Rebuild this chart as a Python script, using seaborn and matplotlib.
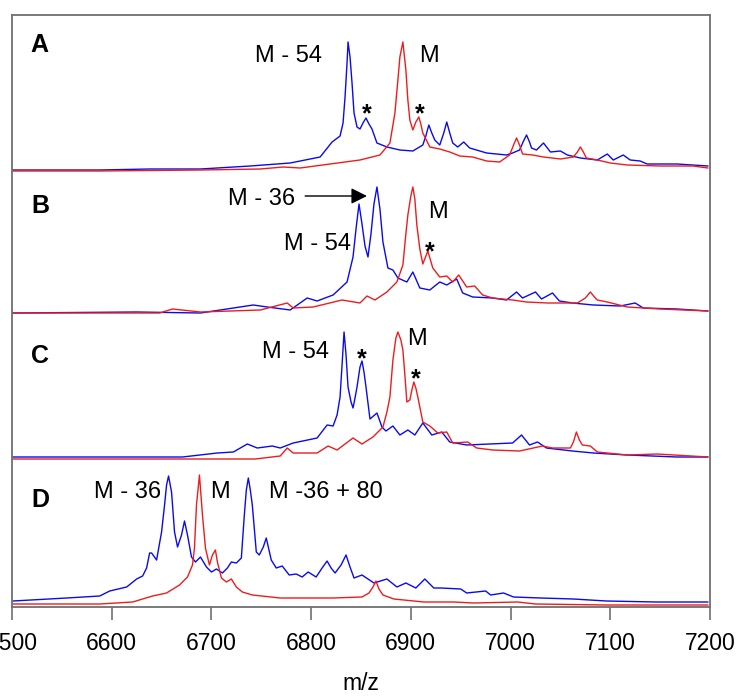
import numpy as np
import pandas as pd
import matplotlib
matplotlib.use("Agg")
import matplotlib.pyplot as plt
import seaborn as sns

# spectra: m/z and intensity (a.u., peak ~ 128)
A_blue_mz = [6500, 6588, 6638, 6689, 6739, 6779, 6809, 6821, 6829, 6832, 6834, 6836, 6837, 6839,
             6841, 6843, 6846, 6849, 6852, 6855, 6858, 6861, 6866, 6876, 6889, 6902, 6912, 6915,
             6918, 6921, 6924, 6929, 6933, 6936, 6939, 6942, 6947, 6953, 6959, 6976, 6996, 7002,
             7009, 7013, 7016, 7019, 7021, 7026, 7033, 7040, 7050, 7057, 7070, 7087, 7097, 7103,
             7113, 7120, 7130, 7137, 7167, 7198]
A_blue_int = [1, 1, 2, 2, 5, 8, 14, 29, 35, 48, 74, 108, 129, 114,
              88, 58, 44, 42, 48, 53, 47, 42, 28, 24, 21, 20, 26, 35,
              46, 38, 31, 26, 38, 49, 38, 28, 24, 29, 23, 18, 16, 18,
              21, 30, 36, 29, 23, 21, 28, 19, 20, 16, 13, 11, 17, 11,
              16, 11, 10, 7, 7, 5]
A_red_mz = [6500, 6588, 6689, 6749, 6772, 6789, 6819, 6849, 6869, 6879, 6884, 6887, 6889, 6892,
            6895, 6897, 6899, 6902, 6905, 6908, 6910, 6912, 6919, 6929, 6939, 6949, 6962, 6976,
            6989, 6999, 7003, 7006, 7009, 7012, 7022, 7033, 7050, 7063, 7067, 7070, 7073, 7076,
            7087, 7100, 7117, 7150, 7183, 7198]
A_red_int = [0, 0, 1, 2, 4, 3, 7, 11, 16, 28, 58, 91, 114, 129,
             101, 71, 51, 41, 49, 54, 47, 38, 24, 22, 19, 15, 14, 10,
             9, 16, 26, 33, 26, 17, 16, 14, 12, 14, 19, 24, 19, 13,
             11, 8, 6, 5, 5, 3]

B_blue_mz = [6500, 6625, 6689, 6742, 6756, 6779, 6796, 6806, 6822, 6836, 6842, 6845, 6848, 6851,
             6854, 6857, 6860, 6863, 6866, 6869, 6872, 6877, 6882, 6887, 6896, 6902, 6909, 6919,
             6929, 6936, 6946, 6952, 6962, 6982, 6996, 7006, 7012, 7025, 7031, 7042, 7049, 7062,
             7083, 7110, 7125, 7133, 7167, 7198]
B_blue_int = [1, 2, 1, 9, 7, 4, 16, 13, 19, 32, 57, 85, 110, 90,
              68, 57, 80, 110, 127, 105, 72, 46, 44, 36, 32, 42, 26, 24,
              32, 29, 35, 21, 17, 16, 14, 22, 16, 22, 15, 21, 13, 11,
              9, 8, 11, 6, 5, 3]
B_red_mz = [6500, 6648, 6661, 6689, 6749, 6776, 6782, 6802, 6831, 6849, 6856, 6864, 6876, 6886,
            6892, 6895, 6897, 6900, 6902, 6904, 6906, 6909, 6912, 6917, 6922, 6929, 6936, 6942,
            6948, 6956, 6964, 6972, 6982, 7002, 7016, 7037, 7067, 7075, 7080, 7085, 7087, 7097,
            7117, 7150, 7198]
B_red_int = [1, 1, 5, 2, 4, 11, 6, 7, 14, 11, 18, 14, 22, 32,
             49, 80, 99, 118, 127, 115, 89, 65, 50, 63, 46, 37, 38, 32,
             39, 27, 28, 19, 16, 14, 12, 11, 11, 16, 22, 16, 14, 12,
             7, 5, 3]

C_blue_mz = [6500, 6671, 6706, 6722, 6729, 6736, 6746, 6761, 6769, 6782, 6806, 6816, 6822, 6826,
             6829, 6831, 6833, 6835, 6837, 6840, 6842, 6844, 6846, 6849, 6851, 6853, 6855, 6859,
             6866, 6871, 6875, 6882, 6889, 6897, 6904, 6912, 6921, 6931, 6939, 6956, 6979, 7002,
             7011, 7019, 7027, 7036, 7062, 7083, 7117, 7167, 7198]
C_blue_int = [3, 3, 7, 8, 12, 16, 12, 14, 12, 17, 22, 35, 34, 45,
              63, 95, 128, 105, 73, 58, 52, 62, 73, 93, 99, 88, 73, 41,
              47, 33, 29, 34, 25, 30, 25, 37, 25, 28, 18, 15, 16, 17,
              25, 15, 18, 12, 9, 7, 5, 3, 3]
C_red_mz = [6500, 6744, 6769, 6776, 6782, 6806, 6817, 6826, 6842, 6851, 6862, 6872, 6876, 6879,
            6882, 6885, 6887, 6890, 6892, 6894, 6896, 6899, 6901, 6903, 6905, 6907, 6912, 6919,
            6927, 6936, 6942, 6957, 6966, 6982, 7009, 7032, 7042, 7060, 7063, 7066, 7069, 7072,
            7080, 7087, 7117, 7147, 7198]
C_red_int = [1, 1, 4, 12, 7, 7, 14, 10, 22, 16, 23, 33, 48, 63,
             100, 122, 128, 120, 110, 85, 58, 60, 70, 78, 72, 63, 38, 34,
             27, 28, 17, 18, 12, 10, 9, 14, 12, 12, 18, 28, 20, 15,
             14, 8, 5, 6, 3]

D_blue_mz = [6501, 6555, 6588, 6598, 6615, 6625, 6631, 6635, 6638, 6640, 6645, 6650, 6653, 6655,
             6657, 6660, 6663, 6666, 6670, 6673, 6676, 6680, 6684, 6689, 6695, 6700, 6705, 6711,
             6716, 6720, 6725, 6730, 6733, 6735, 6737, 6739, 6741, 6745, 6748, 6752, 6755, 6760,
             6765, 6771, 6778, 6785, 6791, 6797, 6805, 6811, 6816, 6820, 6824, 6830, 6835, 6839,
             6843, 6851, 6863, 6876, 6886, 6895, 6905, 6914, 6923, 6930, 6950, 6956, 6975, 6980,
             6993, 7003, 7030, 7063, 7096, 7146, 7198]
D_blue_int = [4, 7, 9, 14, 18, 26, 29, 37, 52, 52, 45, 73, 100, 120,
              129, 113, 73, 58, 70, 84, 70, 48, 43, 48, 38, 33, 36, 32,
              37, 43, 42, 47, 90, 115, 127, 115, 100, 53, 50, 58, 67, 45,
              37, 39, 30, 31, 28, 33, 28, 37, 44, 37, 32, 40, 50, 38,
              27, 30, 22, 26, 18, 22, 17, 26, 17, 17, 16, 12, 14, 10,
              12, 8, 7, 6, 4, 3, 3]
D_red_mz = [6500, 6588, 6621, 6641, 6655, 6668, 6676, 6681, 6683, 6685, 6688, 6691, 6694, 6698,
            6701, 6704, 6706, 6710, 6715, 6720, 6725, 6731, 6741, 6769, 6799, 6822, 6851, 6858,
            6862, 6865, 6868, 6872, 6883, 6913, 6943, 6963, 7007, 7025, 7096, 7198]
D_red_int = [1, 1, 3, 9, 12, 20, 28, 40, 57, 100, 130, 90, 57, 40,
             50, 55, 43, 27, 23, 26, 18, 13, 10, 7, 7, 7, 8, 12,
             18, 24, 16, 10, 6, 3, 3, 2, 3, 1, 0, 0]

panels = ["A", "B", "C", "D"]
offsets = {"A": 436, "B": 293, "C": 147, "D": 2}
spectra = {
    "A": (A_blue_mz, A_blue_int, A_red_mz, A_red_int),
    "B": (B_blue_mz, B_blue_int, B_red_mz, B_red_int),
    "C": (C_blue_mz, C_blue_int, C_red_mz, C_red_int),
    "D": (D_blue_mz, D_blue_int, D_red_mz, D_red_int),
}
xticks = [6500, 6600, 6700, 6800, 6900, 7000, 7100, 7200]

sns.set_theme(style="white")
plt.rcParams["font.family"] = ["Liberation Sans", "DejaVu Sans"]

fig = plt.figure(figsize=(7.5, 6.99), dpi=100)
ax = fig.add_axes([12 / 750, 92 / 699, 698 / 750, 592 / 699])

BLUE = "#0a0af0"
RED = "#ee1c1c"
for p in panels:
    bmz, bint, rmz, rint = spectra[p]
    off = offsets[p]
    sns.lineplot(x=bmz, y=np.array(bint) + off, color=BLUE, lw=1.0, ax=ax,
                 estimator=None, sort=False)
    sns.lineplot(x=rmz, y=np.array(rint) + off, color=RED, lw=1.0, ax=ax,
                 estimator=None, sort=False)

ax.set_xlim(6500, 7200)
ax.set_ylim(0, 592)
ax.set_xticks(xticks)
ax.set_xticklabels([str(t) for t in xticks], fontsize=16.5, color="black")
ax.set_yticks([])
ax.tick_params(axis="x", direction="out", length=9, width=1.2, color="#707070",
               pad=9, bottom=True)
for s in ax.spines.values():
    s.set_color("#707070")
    s.set_linewidth(1.3)
ax.set_xlabel("m/z", fontsize=16.5, labelpad=12, color="black")
ax.set_ylabel("")

lab = dict(fontsize=17, ha="center", va="baseline", color="black")
star = dict(fontsize=18, fontweight="bold", ha="center", va="baseline", color="black")
letter = dict(fontsize=18, fontweight="bold", ha="center", va="baseline", color="black")

# panel A
ax.text(6527, 555, "A", **letter)
ax.text(6777, 545, "M - 54", **lab)
ax.text(6918, 545, "M", **lab)
ax.text(6856, 486, "*", **star)
ax.text(6909, 486, "*", **star)
# panel B
ax.text(6528, 394, "B", **letter)
ax.text(6750, 402, "M - 36", **lab)
ax.annotate("", xy=(6856, 411), xytext=(6794, 411),
            arrowprops=dict(arrowstyle="-|>", color="black", lw=1.0,
                            mutation_scale=24, shrinkA=0, shrinkB=0))
ax.text(6806, 357, "M - 54", **lab)
ax.text(6927, 389, "M", **lab)
ax.text(6919, 348, "*", **star)
# panel C
ax.text(6528, 244, "C", **letter)
ax.text(6784, 249, "M - 54", **lab)
ax.text(6851, 241, "*", **star)
ax.text(6906, 262, "M", **lab)
ax.text(6905, 221, "*", **star)
# panel D
ax.text(6528, 100, "D", **letter)
ax.text(6616, 109, "M - 36", **lab)
ax.text(6709, 109, "M", **lab)
ax.text(6815, 109, "M -36 + 80", **lab)

fig.savefig("out.png", dpi=100)
